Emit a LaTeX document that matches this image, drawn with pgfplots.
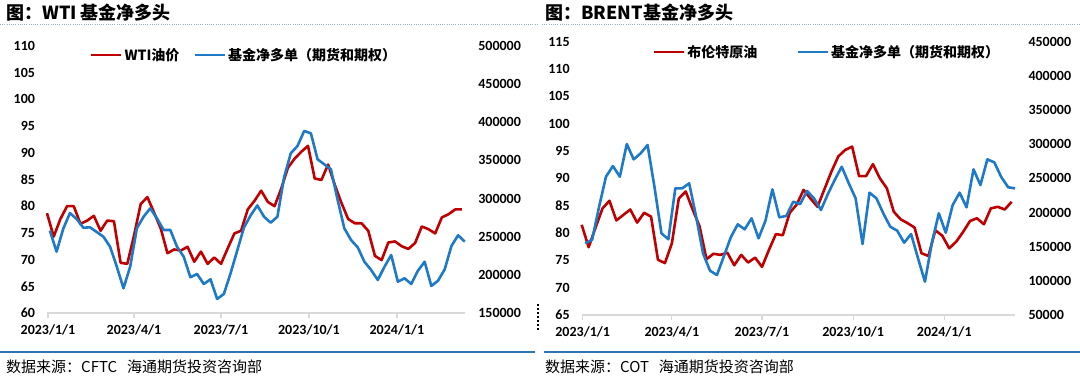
\documentclass[border=0pt]{standalone}
\usepackage{pgfplots}
\pgfplotsset{compat=1.18}
\usepackage{pgfplotstable}
\usepackage{fontspec}
\setmainfont{Carlito}
\newfontfamily\cjk{Noto Sans CJK SC}
\definecolor{lred}{RGB}{192,0,0}
\definecolor{lblue}{RGB}{30,122,198}
\definecolor{axgray}{RGB}{217,217,217}
\definecolor{barblue}{RGB}{46,117,182}
\definecolor{dotblue}{RGB}{150,175,200}

% WTI: k = week index; red = WTI price, blue = fund net long (futures & options)
\pgfplotstableread{
k red blue
0 78.7 258000
1 74.3 230400
2 77.6 260500
3 80.0 281000
4 80.0 273200
5 76.7 261800
6 77.3 262300
7 78.2 256200
8 75.4 250000
9 77.3 236900
10 77.2 210700
11 69.4 182400
12 69.2 210700
13 74.5 261000
14 80.4 276200
15 81.7 287200
16 78.8 274100
17 75.8 258800
18 71.2 258800
19 71.9 236900
20 71.7 223800
21 72.4 196800
22 69.6 201100
23 71.5 188000
24 69.2 194200
25 70.4 168400
26 69.2 175000
27 72.1 202000
28 74.9 232000
29 75.4 262000
30 79.4 278000
31 81.0 291000
32 82.9 276200
33 80.8 268400
34 80.0 276200
35 83.3 328000
36 87.2 359400
37 88.9 368900
38 90.2 388600
39 91.3 385600
40 85.2 351500
41 84.9 344900
42 87.8 338400
43 84.0 298100
44 80.6 261000
45 77.6 245700
46 76.8 236100
47 76.8 217200
48 75.4 206400
49 70.7 193300
50 69.9 210700
51 73.2 226000
52 73.4 191000
53 72.5 195500
54 72.0 188000
55 73.1 205500
56 76.2 217200
57 75.7 185400
58 74.9 192300
59 77.9 207300
60 78.5 237800
61 79.4 251900
62 79.4 243500
}\wtidata

% BRENT
\pgfplotstableread{
k red blue
0 81.5 155000
1 77.4 160000
2 81.0 208000
3 84.5 252400
4 85.9 268000
5 82.3 252400
6 83.3 300200
7 84.3 277800
8 81.9 286600
9 83.7 298800
10 83.0 237000
11 75.1 169500
12 74.5 160800
13 78.1 235400
14 86.3 235400
15 87.6 242700
16 84.3 194000
17 81.2 140000
18 75.2 114900
19 76.2 108500
20 76.0 136000
21 76.4 163700
22 74.1 182700
23 76.0 175400
24 74.6 191500
25 75.5 162200
26 73.8 188000
27 76.9 233900
28 79.8 193000
29 79.6 194900
30 83.7 215800
31 85.2 212400
32 87.9 231500
33 86.3 220800
34 84.8 203700
35 88.0 227000
36 91.2 248000
37 94.0 267000
38 95.2 243000
39 95.8 220800
40 90.4 153900
41 90.4 229000
42 92.6 220800
43 90.0 198600
44 88.2 179200
45 83.9 173400
46 82.5 155800
47 81.8 168500
48 81.0 133000
49 76.3 98700
50 75.8 155800
51 80.5 198800
52 79.5 170400
53 77.2 211000
54 78.4 229000
55 80.2 207600
56 82.2 263200
57 82.7 240200
58 81.6 277800
59 84.5 273400
60 84.8 252000
61 84.3 236900
62 85.7 235400
}\brentdata

\pgfplotsset{
  ticklab/.style={font=\fontsize{14}{16}\selectfont\bfseries},
  panel/.style={
    scale only axis, anchor=south west, clip=false,
    tick align=outside, major tick length=5pt,
    tick label style={ticklab},
    scaled y ticks=false, scaled x ticks=false,
    xtick={0,90,181,273,365},
    xticklabels={2023/1/1,2023/4/1,2023/7/1,2023/10/1,2024/1/1},
  },
  leftax/.style={panel,
    axis x line*=bottom, axis y line*=left,
    y axis line style={draw=none}, ytick style={draw=none},
    x axis line style={draw=axgray, line width=1.2pt},
    xtick style={draw=axgray, line width=1.2pt},
    yticklabel style={xshift=-3.5pt},
    xticklabel style={yshift=-3pt},
  },
  rightax/.style={panel,
    axis x line=none, axis y line*=right,
    y axis line style={draw=none}, ytick style={draw=none},
    yticklabel style={xshift=5pt},
    legend image code/.code={\draw[##1] (0pt,0pt) -- (30pt,0pt);},
  },
  redl/.style={lred, line width=2.6pt, line join=round},
  bluel/.style={lblue, line width=2.6pt, line join=round},
}

\begin{document}
\begin{tikzpicture}[x=1pt,y=1pt]
\useasboundingbox (0,0) rectangle (1080,380);

% ---------- left panel ----------
\node[anchor=west, inner sep=0pt] at (6,367) {\cjk\fontsize{18}{20}\selectfont\bfseries 图：WTI 基金净多头};
\draw[dotblue, line width=0.9pt, dash pattern=on 1pt off 1.2pt] (0,356) -- (537,356);

\begin{axis}[leftax, at={(47pt,67pt)}, width=417.8pt, height=267pt,
  xmin=-1, xmax=436, ymin=60, ymax=110,
  ytick={60,65,70,75,80,85,90,95,100,105,110},
  yticklabels={60,65,70,75,80,85,90,95,100,105,110}]
\addplot[redl] table[x expr=7*\thisrow{k}-1, y=red]{\wtidata};
\end{axis}
\begin{axis}[rightax, at={(47pt,67pt)}, width=417.8pt, height=267pt,
  xmin=-1, xmax=436, ymin=150000, ymax=500000,
  ytick={150000,200000,250000,300000,350000,400000,450000,500000},
  yticklabels={150000,200000,250000,300000,350000,400000,450000,500000},
  legend style={at={(0.4715,0.966)}, anchor=center, draw=none, fill=none,
    legend columns=2, font=\cjk\fontsize{14}{16}\selectfont\bfseries,
    /tikz/every even column/.append style={column sep=12pt}}]
\addlegendimage{redl}
\addlegendentry{WTI油价}
\addplot[bluel] table[x expr=7*\thisrow{k}+2, y=blue]{\wtidata};
\addlegendentry{基金净多单（期货和期权）}
\end{axis}

\draw[barblue, line width=2.5pt] (0,28) -- (535,28);
\node[anchor=west, inner sep=0pt] at (6,13) {\cjk\fontsize{15}{17}\selectfont 数据来源：CFTC\hspace{10pt}海通期货投资咨询部};
\draw[black, line width=1.2pt, dash pattern=on 2pt off 2pt] (538,50) -- (538,77);

% ---------- right panel ----------
\node[anchor=west, inner sep=0pt] at (545,367) {\cjk\fontsize{18}{20}\selectfont\bfseries 图：BRENT基金净多头};
\draw[dotblue, line width=0.9pt, dash pattern=on 1pt off 1.2pt] (542,356) -- (1080,356);

\begin{axis}[leftax, at={(581.7pt,65pt)}, width=433.3pt, height=273.3pt,
  xmin=-1, xmax=436.4, ymin=65, ymax=115,
  ytick={65,70,75,80,85,90,95,100,105,110,115},
  yticklabels={65,70,75,80,85,90,95,100,105,110,115}]
\addplot[redl] table[x expr=7*\thisrow{k}-1, y=red]{\brentdata};
\end{axis}
\begin{axis}[rightax, at={(581.7pt,65pt)}, width=433.3pt, height=273.3pt,
  xmin=-1, xmax=436.4, ymin=50000, ymax=450000,
  ytick={50000,100000,150000,200000,250000,300000,350000,400000,450000},
  yticklabels={50000,100000,150000,200000,250000,300000,350000,400000,450000},
  legend style={at={(0.566,0.962)}, anchor=center, draw=none, fill=none,
    legend columns=2, font=\cjk\fontsize{14}{16}\selectfont\bfseries,
    /tikz/every even column/.append style={column sep=37pt}}]
\addlegendimage{redl}
\addlegendentry{布伦特原油}
\addplot[bluel] table[x expr=7*\thisrow{k}+2.5, y=blue]{\brentdata};
\addlegendentry{基金净多单（期货和期权）}
\end{axis}

\draw[barblue, line width=2.5pt] (544,28) -- (1080,28);
\node[anchor=west, inner sep=0pt] at (545,13) {\cjk\fontsize{15}{17}\selectfont 数据来源：COT\hspace{10pt}海通期货投资咨询部};
\end{tikzpicture}
\end{document}
